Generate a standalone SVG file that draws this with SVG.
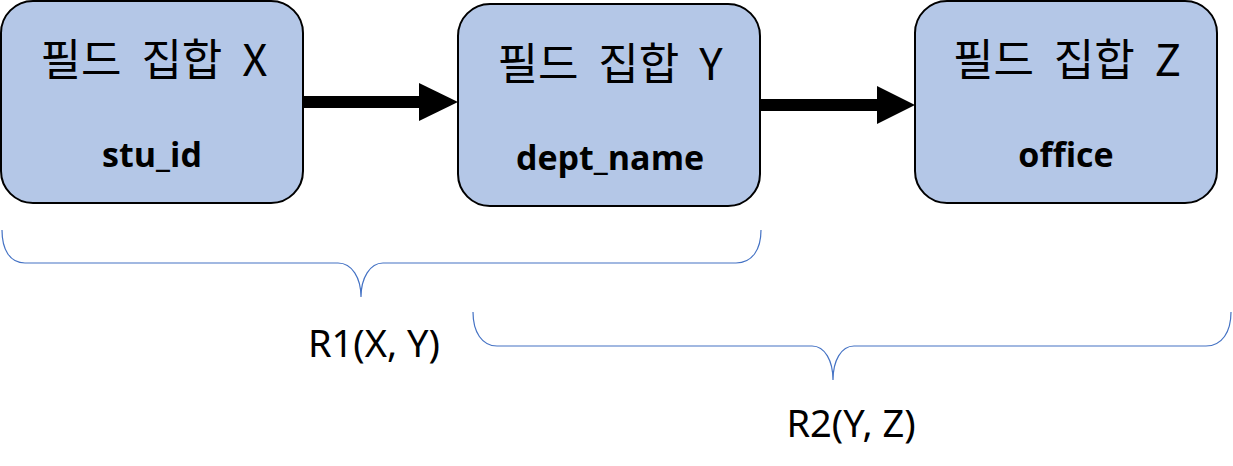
<svg xmlns="http://www.w3.org/2000/svg" width="1233" height="466" viewBox="0 0 1233 466">
<style>
.box{fill:#B4C7E7;stroke:#000;stroke-width:2}
.ttl{font-family:"Noto Sans CJK KR","Noto Sans",sans-serif;font-size:44px;fill:#000;text-anchor:middle;word-spacing:10px}
.fld{font-family:"Open Sans","Noto Sans",sans-serif;font-weight:bold;font-size:34px;fill:#000;text-anchor:middle}
.lbl{font-family:"Noto Sans","Liberation Sans",sans-serif;font-size:38px;fill:#000;text-anchor:middle}
.brace{fill:none;stroke:#4472C4;stroke-width:1.2}
.shaft{stroke:#000;stroke-width:12}
.head{fill:#000}
</style>
<g id="nodeX">
<rect class="box" x="1" y="1" width="302" height="202" rx="32"/>
<text class="ttl" x="154" y="76">필드 집합 X</text>
<text class="fld" x="152" y="167">stu_id</text>
</g>
<g id="nodeY">
<rect class="box" x="458" y="4" width="302" height="202" rx="32"/>
<text class="ttl" x="610" y="80">필드 집합 Y</text>
<text class="fld" x="610" y="170">dept_name</text>
</g>
<g id="nodeZ">
<rect class="box" x="915" y="1" width="302" height="202" rx="32"/>
<text class="ttl" x="1067" y="76">필드 집합 Z</text>
<text class="fld" x="1066" y="167">office</text>
</g>
<g id="connectors">
<line class="shaft" x1="303" y1="102" x2="421" y2="102"/>
<polygon class="head" points="419,83 458,102 419,121"/>
<line class="shaft" x1="760" y1="105" x2="879" y2="105"/>
<polygon class="head" points="877,86 915,105 877,124"/>
</g>
<g id="braceR1">
<path class="brace" d="M2,230 C2,250 10,263 25,263 L338,263 C352,263 361,278 361,297 C361,278 370,263 383,263 L736,263 C752,263 761,250 761,230"/>
<text class="lbl" x="374" y="357">R1(X, Y)</text>
</g>
<g id="braceR2">
<path class="brace" d="M473,312 C473,332 482,346 497,346 L812,346 C825,346 833,361 833,380 C833,361 841,346 854,346 L1206,346 C1222,346 1231,332 1231,312"/>
<text class="lbl" x="851" y="437">R2(Y, Z)</text>
</g>
</svg>
